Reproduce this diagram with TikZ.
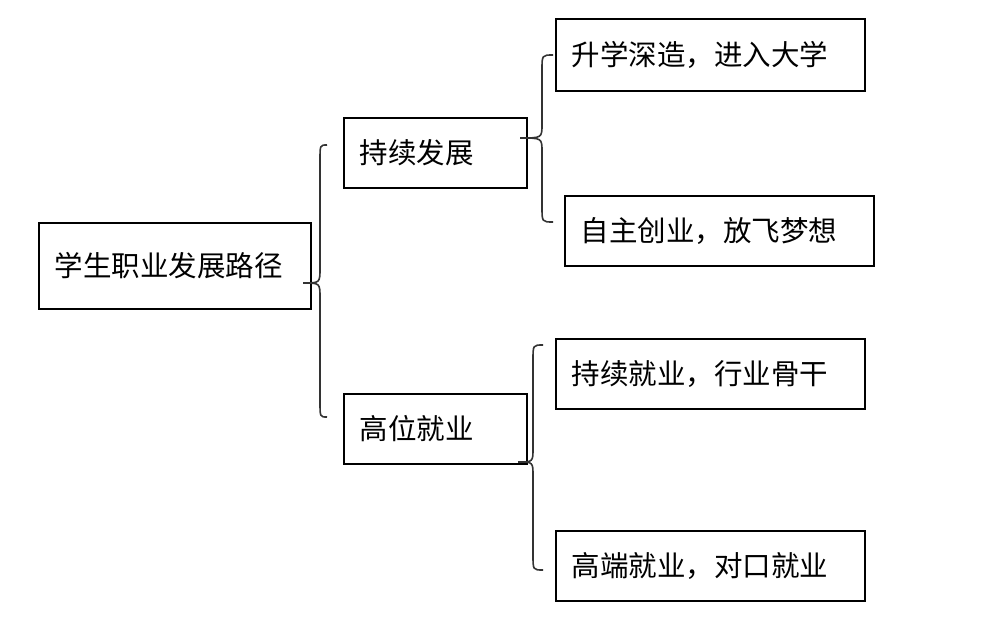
\documentclass[tikz,border=0pt]{standalone}
\usepackage{fontspec}
\setmainfont{Noto Sans CJK SC}
\begin{document}
\begin{tikzpicture}[x=1pt,y=-1pt,
  box/.style={draw=black,line width=1.8pt,anchor=north west,inner ysep=0pt,inner xsep=16pt,
    align=left,font=\fontsize{28.5}{30}\selectfont},
  brace/.style={draw=black!80,line width=1.6pt}]
\useasboundingbox (0,0) rectangle (985,617);
% boxes
\node[box,text width=240pt,minimum height=86pt] (root) at (38,222) {学生职业发展路径};
\node[box,text width=151pt,minimum height=70pt] (cx) at (343,117) {持续发展};
\node[box,text width=151pt,minimum height=70pt] (gw) at (343,393) {高位就业};
\node[box,text width=277pt,minimum height=72pt] (sx) at (555,18) {升学深造，进入大学};
\node[box,text width=277pt,minimum height=70pt] (zz) at (564,195) {自主创业，放飞梦想};
\node[box,text width=277pt,minimum height=70pt] (cj) at (555,338) {持续就业，行业骨干};
\node[box,text width=277pt,minimum height=70pt] (gd) at (555,530) {高端就业，对口就业};
% braces
\draw[brace] (327,145) .. controls (320,145) .. (320,160) -- (320,268) .. controls (320,283) .. (303,283)
  .. controls (320,283) .. (320,298) -- (320,402) .. controls (320,417) .. (327,417);
\draw[brace] (553,55) .. controls (542,55) .. (542,70) -- (542,124) .. controls (542,138) .. (520,138)
  .. controls (542,138) .. (542,152) -- (542,207) .. controls (542,222) .. (553,222);
\draw[brace] (543,345) .. controls (533,345) .. (533,360) -- (533,448) .. controls (533,462) .. (518,462)
  .. controls (533,462) .. (533,476) -- (533,555) .. controls (533,570) .. (543,570);
\end{tikzpicture}
\end{document}
